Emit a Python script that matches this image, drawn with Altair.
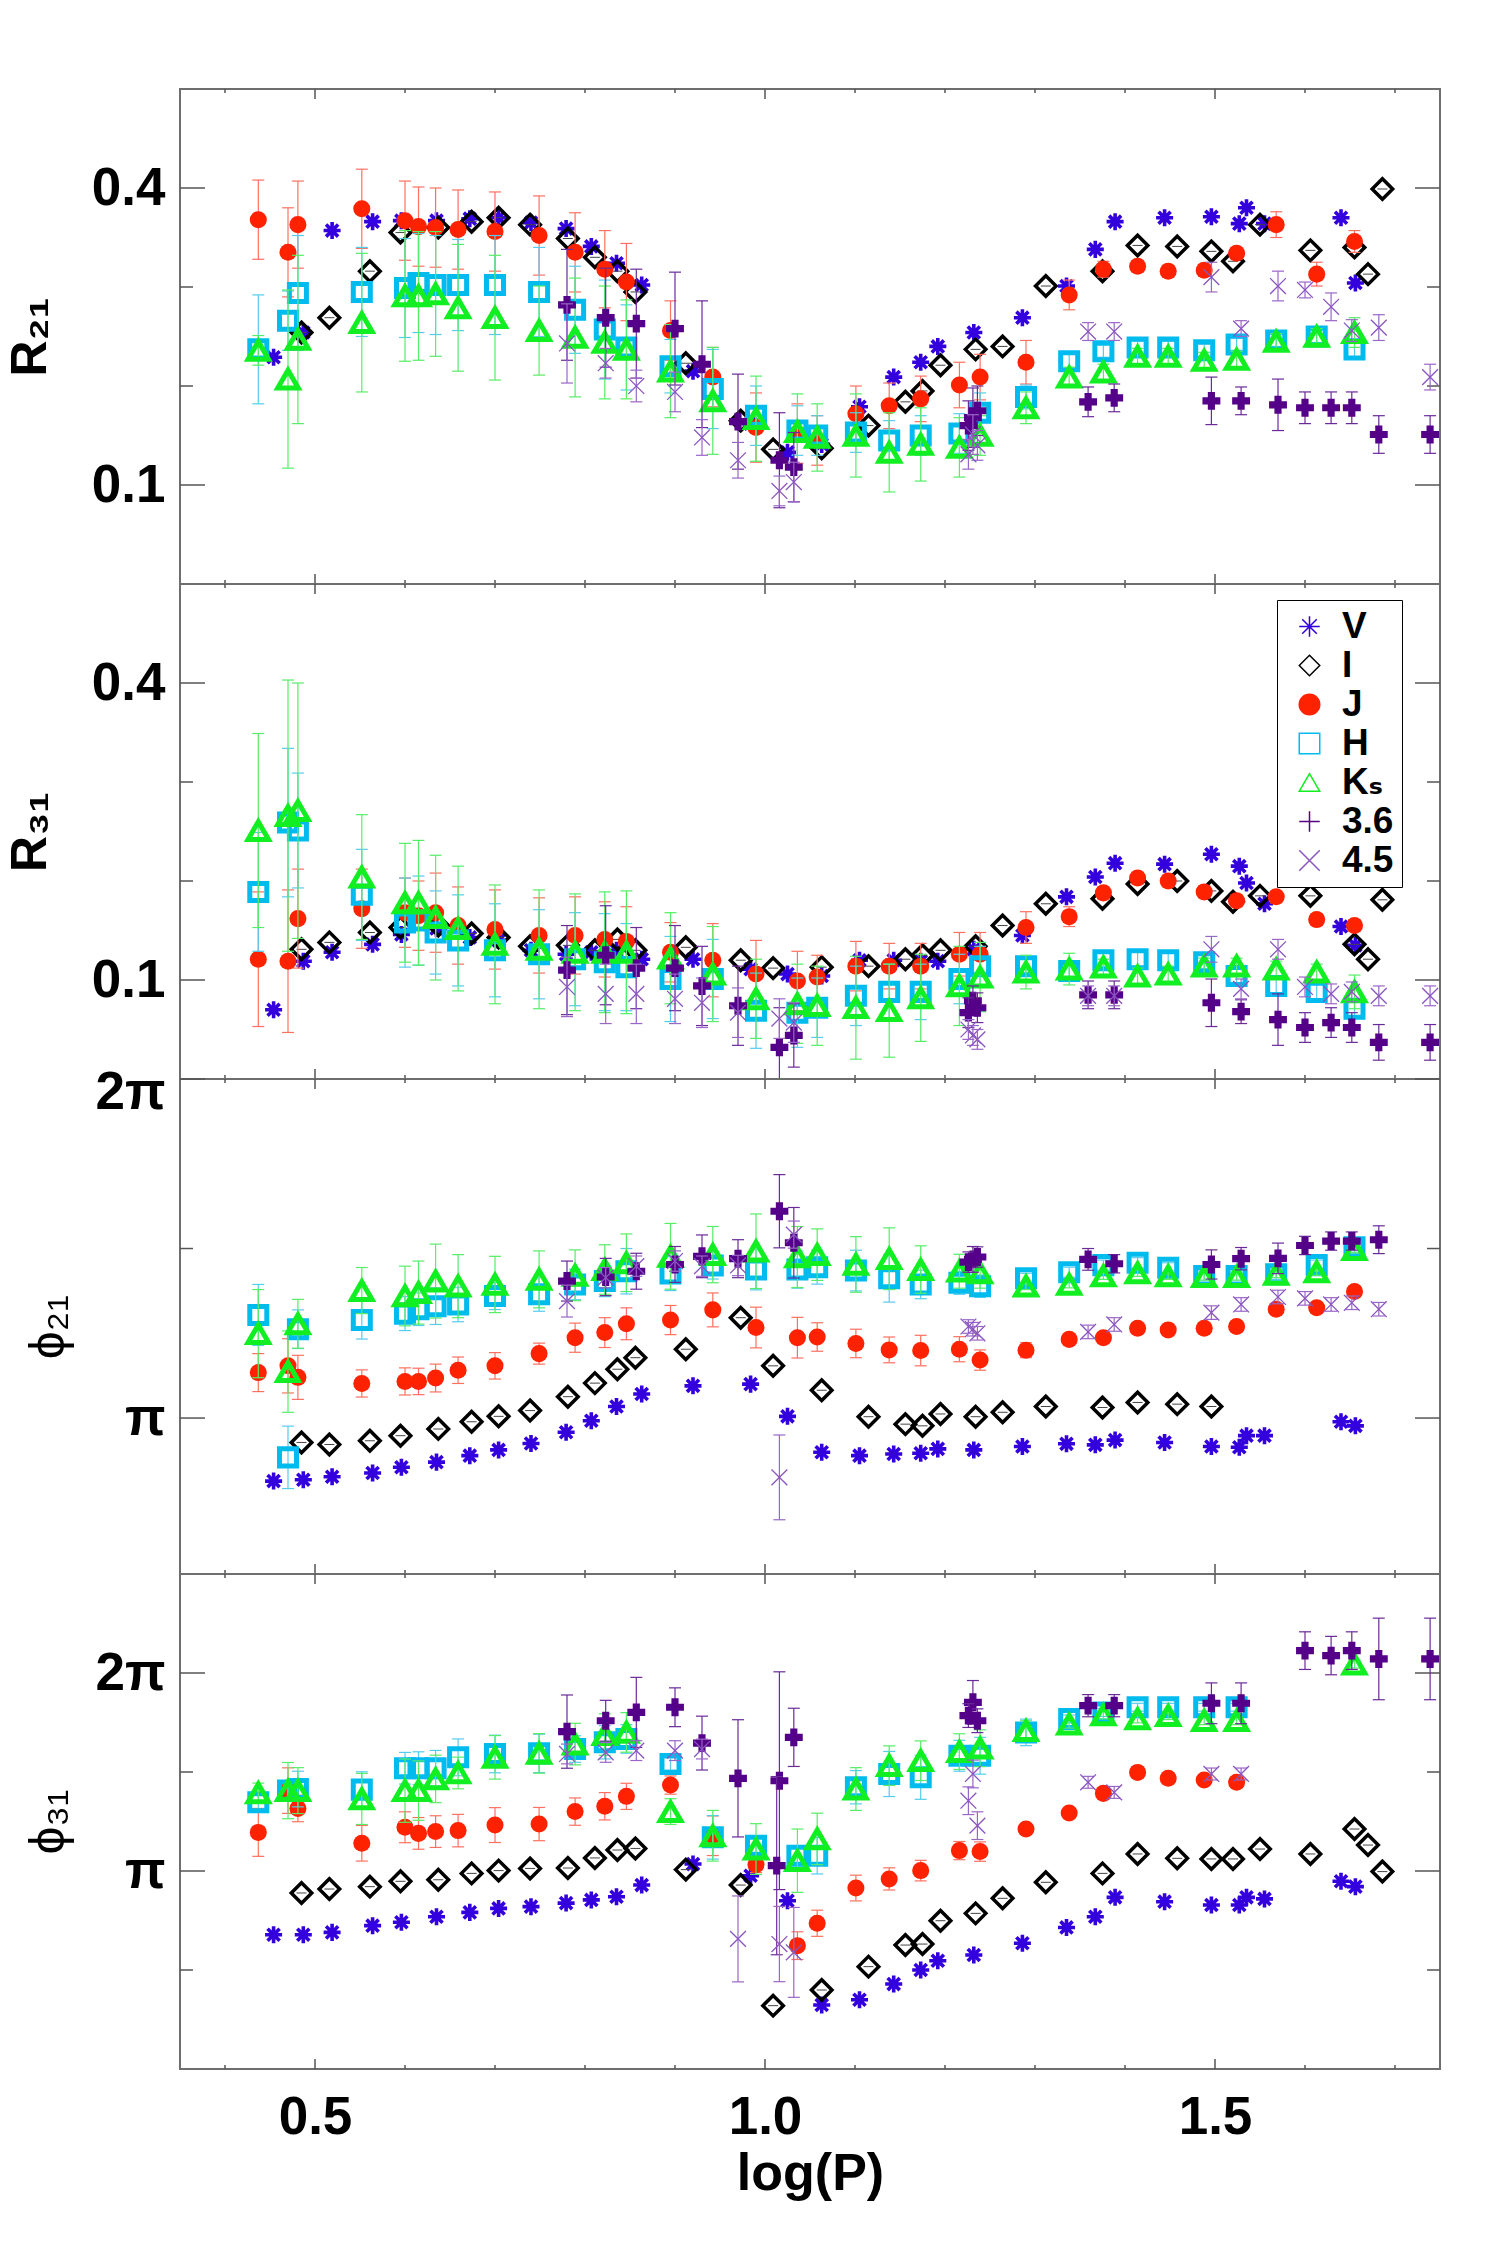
import altair as alt
import pandas as pd

# ---------------- x positions: log(P) ----------------
X_JHK = [0.437, 0.470, 0.481, 0.552, 0.600, 0.615, 0.634, 0.659, 0.700, 0.749,
         0.789, 0.822, 0.846, 0.895, 0.942, 0.990, 1.036, 1.058, 1.101, 1.138,
         1.173, 1.216, 1.239, 1.290, 1.338, 1.376, 1.414, 1.448, 1.488, 1.524,
         1.568, 1.613, 1.655]
X_V = [0.454, 0.487, 0.519, 0.564, 0.596, 0.635, 0.672, 0.704, 0.740, 0.779,
       0.807, 0.835, 0.863, 0.920, 0.984, 1.025, 1.063, 1.105, 1.143, 1.173,
       1.192, 1.232, 1.286, 1.335, 1.367, 1.389, 1.444, 1.496, 1.527, 1.535,
       1.555, 1.640, 1.656]
X_I = [0.485, 0.516, 0.561, 0.595, 0.637, 0.674, 0.704, 0.739, 0.781, 0.811,
       0.836, 0.856, 0.912, 0.973, 1.009, 1.063, 1.115, 1.156, 1.175, 1.195,
       1.234, 1.264, 1.312, 1.375, 1.414, 1.458, 1.496, 1.520, 1.550, 1.606,
       1.655, 1.670, 1.686]
X_IR = [0.780, 0.823, 0.857, 0.900, 0.930, 0.970, 1.016, 1.032, 1.231, 1.359,
        1.388, 1.496, 1.529, 1.570, 1.600, 1.629, 1.652, 1.682, 1.739]
X_IRX = [1.226, 1.236, 1.013]

# ---------------- R21 ----------------
R21_V = [0.229, 0.254, 0.357, 0.366, 0.367, 0.367, 0.369, 0.370, 0.365, 0.359,
         0.341, 0.324, 0.302, 0.215, 0.162, 0.133, 0.141, 0.179, 0.209, 0.224,
         0.240, 0.254, 0.269, 0.301, 0.338, 0.366, 0.370, 0.371, 0.364, 0.380,
         0.364, 0.370, 0.304]
R21_I = [0.254, 0.269, 0.316, 0.355, 0.360, 0.366, 0.370, 0.363, 0.349, 0.330,
         0.316, 0.295, 0.223, 0.165, 0.136, 0.137, 0.160, 0.184, 0.195, 0.221,
         0.237, 0.240, 0.301, 0.316, 0.342, 0.341, 0.336, 0.326, 0.363, 0.337,
         0.340, 0.313, 0.399]
R21_J = [0.368, 0.335, 0.363, 0.379, 0.367, 0.361, 0.360, 0.358, 0.356, 0.352,
         0.335, 0.318, 0.305, 0.256, 0.209, 0.158, 0.152, 0.145, 0.172, 0.180,
         0.187, 0.201, 0.209, 0.224, 0.292, 0.318, 0.321, 0.316, 0.317, 0.334,
         0.363, 0.313, 0.346]
R21_Je = [0.040, 0.045, 0.044, 0.040, 0.040, 0.040, 0.040, 0.040, 0.040, 0.040,
          0.040, 0.039, 0.039, 0.030, 0.030, 0.035, 0.030, 0.025, 0.028, 0.023,
          0.023, 0.023, 0.023, 0.022, 0.015, 0.008, 0.006, 0.006, 0.006, 0.006,
          0.013, 0.012, 0.011]
R21_H = [0.237, 0.266, 0.294, 0.295, 0.299, 0.304, 0.302, 0.302, 0.302, 0.295,
         0.277, 0.257, 0.239, 0.220, 0.197, 0.170, 0.155, 0.150, 0.153, 0.145,
         0.150, 0.152, 0.173, 0.189, 0.225, 0.235, 0.239, 0.239, 0.236, 0.242,
         0.246, 0.250, 0.237]
R21_He = [0.055, 0.030, 0.058, 0.045, 0.050, 0.050, 0.050, 0.046, 0.050, 0.045,
          0.044, 0.050, 0.043, 0.027, 0.040, 0.030, 0.025, 0.020, 0.020, 0.020,
          0.020, 0.020, 0.020, 0.012, 0.008, 0.006, 0.006, 0.006, 0.006, 0.006,
          0.006, 0.006, 0.008]
R21_K = [0.236, 0.207, 0.247, 0.264, 0.291, 0.291, 0.293, 0.279, 0.269, 0.256,
         0.249, 0.244, 0.237, 0.215, 0.185, 0.167, 0.154, 0.148, 0.150, 0.133,
         0.141, 0.138, 0.150, 0.178, 0.209, 0.214, 0.230, 0.230, 0.226, 0.227,
         0.245, 0.250, 0.254]
R21_Ke = [0.015, 0.090, 0.085, 0.070, 0.066, 0.065, 0.063, 0.064, 0.063, 0.045,
          0.060, 0.057, 0.050, 0.047, 0.054, 0.043, 0.038, 0.034, 0.042, 0.040,
          0.037, 0.030, 0.020, 0.016, 0.010, 0.008, 0.008, 0.008, 0.008, 0.008,
          0.008, 0.008, 0.015]
R21_36 = [0.282, 0.269, 0.263, 0.258, 0.222, 0.164, 0.125, 0.118, 0.168, 0.184,
          0.188, 0.185, 0.185, 0.181, 0.178, 0.178, 0.178, 0.151, 0.151]
R21_36e = [0.056, 0.050, 0.055, 0.057, 0.064, 0.048, 0.048, 0.035, 0.030, 0.015,
           0.014, 0.024, 0.014, 0.026, 0.016, 0.016, 0.016, 0.019, 0.019]
R21_45 = [0.243, 0.223, 0.200, 0.194, 0.148, 0.125, 0.094, 0.103, 0.151, 0.255,
          0.255, 0.310, 0.258, 0.301, 0.297, 0.280, 0.256, 0.259, 0.209]
R21_45e = [0.040, 0.015, 0.016, 0.020, 0.018, 0.018, 0.015, 0.020, 0.020, 0.009,
           0.009, 0.015, 0.008, 0.015, 0.008, 0.014, 0.011, 0.013, 0.013]
R21_36x = [0.160, 0.175, None]
R21_36xe = [0.025, 0.025, None]
R21_45x = [0.131, 0.140, None]
R21_45xe = [0.015, 0.015, None]

# ---------------- R31 ----------------
R31_V = [0.070, 0.119, 0.128, 0.136, 0.146, 0.152, 0.143, 0.140, 0.130, 0.126,
         0.128, 0.130, 0.121, 0.121, 0.111, 0.106, 0.104, 0.120, 0.120, 0.119,
         0.119, 0.131, 0.145, 0.184, 0.204, 0.218, 0.217, 0.227, 0.215, 0.198,
         0.177, 0.154, 0.135]
R31_I = [0.131, 0.138, 0.148, 0.153, 0.155, 0.147, 0.143, 0.134, 0.135, 0.130,
         0.141, 0.130, 0.133, 0.120, 0.112, 0.113, 0.114, 0.121, 0.125, 0.130,
         0.134, 0.155, 0.177, 0.182, 0.197, 0.200, 0.190, 0.179, 0.185, 0.185,
         0.136, 0.121, 0.181]
R31_J = [0.121, 0.119, 0.162, 0.172, 0.168, 0.165, 0.168, 0.155, 0.151, 0.145,
         0.145, 0.141, 0.139, 0.128, 0.120, 0.106, 0.099, 0.103, 0.114, 0.114,
         0.114, 0.126, 0.126, 0.153, 0.164, 0.188, 0.203, 0.200, 0.189, 0.180,
         0.184, 0.161, 0.155]
R31_Je = [0.068, 0.072, 0.050, 0.040, 0.035, 0.035, 0.040, 0.039, 0.040, 0.038,
          0.039, 0.038, 0.035, 0.030, 0.037, 0.034, 0.030, 0.022, 0.025, 0.023,
          0.023, 0.022, 0.022, 0.016, 0.010, 0.006, 0.006, 0.006, 0.006, 0.006,
          0.006, 0.006, 0.006]
R31_H = [0.189, 0.259, 0.251, 0.186, 0.158, 0.160, 0.148, 0.140, 0.130, 0.126,
         0.121, 0.118, 0.113, 0.101, 0.101, 0.069, 0.067, 0.072, 0.084, 0.088,
         0.088, 0.101, 0.114, 0.114, 0.109, 0.120, 0.121, 0.120, 0.118, 0.104,
         0.094, 0.088, 0.071]
R31_He = [0.060, 0.075, 0.058, 0.046, 0.045, 0.045, 0.042, 0.046, 0.047, 0.045,
          0.047, 0.049, 0.044, 0.043, 0.040, 0.038, 0.035, 0.030, 0.030, 0.028,
          0.028, 0.025, 0.020, 0.008, 0.008, 0.008, 0.008, 0.008, 0.008, 0.008,
          0.008, 0.008, 0.008]
R31_K = [0.251, 0.266, 0.271, 0.204, 0.178, 0.178, 0.163, 0.152, 0.136, 0.131,
         0.128, 0.128, 0.128, 0.122, 0.106, 0.081, 0.076, 0.074, 0.072, 0.069,
         0.082, 0.094, 0.103, 0.108, 0.111, 0.113, 0.104, 0.106, 0.114, 0.114,
         0.111, 0.108, 0.088]
R31_Ke = [0.098, 0.137, 0.129, 0.063, 0.060, 0.063, 0.063, 0.063, 0.060, 0.060,
          0.059, 0.061, 0.062, 0.046, 0.048, 0.040, 0.040, 0.040, 0.052, 0.047,
          0.044, 0.040, 0.035, 0.017, 0.016, 0.008, 0.008, 0.008, 0.008, 0.008,
          0.008, 0.008, 0.017]
R31_36 = [0.110, 0.125, 0.112, 0.112, 0.094, 0.074, 0.032, 0.044, 0.079, 0.085,
          0.085, 0.077, 0.068, 0.060, 0.052, 0.057, 0.052, 0.037, 0.037]
R31_36e = [0.045, 0.050, 0.041, 0.043, 0.040, 0.040, 0.040, 0.032, 0.015, 0.014,
           0.014, 0.024, 0.012, 0.026, 0.015, 0.015, 0.015, 0.018, 0.018]
R31_45 = [0.093, 0.086, 0.086, 0.081, 0.077, 0.067, 0.061, 0.057, 0.044, 0.084,
          0.084, 0.131, 0.091, 0.131, 0.093, 0.086, 0.088, 0.084, 0.084]
R31_45e = [0.030, 0.030, 0.030, 0.025, 0.025, 0.025, 0.020, 0.020, 0.010, 0.010,
           0.010, 0.013, 0.010, 0.010, 0.010, 0.010, 0.010, 0.010, 0.010]
R31_36x = [0.067, 0.072, None]
R31_36xe = [0.015, 0.015, None]
R31_45x = [0.050, 0.040, None]
R31_45xe = [0.010, 0.010, None]

# ---------------- phi21 (units of pi) ----------------
P21_V = [0.814, 0.818, 0.827, 0.838, 0.855, 0.870, 0.889, 0.906, 0.925, 0.958,
         0.992, 1.034, 1.071, 1.095, 1.100, 1.005, 0.899, 0.889, 0.894, 0.896,
         0.909, 0.906, 0.916, 0.924, 0.921, 0.935, 0.928, 0.916, 0.914, 0.948,
         0.948, 0.989, 0.977]
P21_I = [0.928, 0.922, 0.933, 0.948, 0.968, 0.989, 1.005, 1.022, 1.063, 1.103,
         1.144, 1.178, 1.203, 1.296, 1.154, 1.082, 1.004, 0.982, 0.977, 1.012,
         1.004, 1.017, 1.034, 1.031, 1.046, 1.041, 1.034, None, None, None,
         None, None, None]
P21_J = [1.134, 1.154, 1.120, 1.102, 1.108, 1.108, 1.118, 1.141, 1.154, 1.190,
         1.237, 1.252, 1.278, 1.289, 1.319, 1.267, 1.237, 1.239, 1.220, 1.201,
         1.199, 1.203, 1.171, 1.200, 1.232, 1.237, 1.265, 1.260, 1.265, 1.270,
         1.321, 1.325, 1.373]
P21_Je = [0.056, 0.080, 0.065, 0.040, 0.040, 0.039, 0.041, 0.039, 0.039, 0.031,
          0.043, 0.044, 0.047, 0.043, 0.050, 0.060, 0.060, 0.042, 0.042, 0.038,
          0.045, 0.037, 0.030, 0.022, 0.010, 0.010, 0.010, 0.010, 0.010, 0.010,
          0.010, 0.010, 0.010]
P21_H = [1.304, 0.884, 1.262, 1.289, 1.308, 1.321, 1.330, 1.335, 1.360, 1.365,
         1.394, 1.404, 1.433, 1.426, 1.450, 1.438, 1.438, 1.445, 1.435, 1.412,
         1.394, 1.399, 1.389, 1.412, 1.430, 1.451, 1.458, 1.443, 1.419, 1.419,
         1.424, 1.451, 1.504]
P21_He = [0.090, 0.092, 0.057, 0.056, 0.050, 0.048, 0.054, 0.051, 0.040, 0.050,
          0.045, 0.046, 0.067, 0.050, 0.040, 0.060, 0.055, 0.050, 0.060, 0.070,
          0.042, 0.034, 0.033, 0.015, 0.015, 0.015, 0.015, 0.015, 0.015, 0.015,
          0.015, 0.015, 0.015]
P21_K = [1.249, 1.137, 1.278, 1.376, 1.360, 1.370, 1.404, 1.389, 1.394, 1.409,
         1.421, 1.438, 1.458, 1.477, 1.482, 1.492, 1.475, 1.482, 1.453, 1.470,
         1.438, 1.433, 1.428, 1.389, 1.394, 1.419, 1.428, 1.419, 1.417, 1.417,
         1.424, 1.431, 1.497]
P21_Ke = [0.130, 0.120, 0.072, 0.068, 0.088, 0.093, 0.109, 0.093, 0.083, 0.084,
          0.075, 0.073, 0.085, 0.097, 0.083, 0.110, 0.090, 0.076, 0.082, 0.091,
          0.070, 0.050, 0.045, 0.010, 0.010, 0.010, 0.010, 0.010, 0.010, 0.010,
          0.010, 0.010, 0.010]
P21_36 = [1.404, 1.416, 1.433, 1.453, 1.477, 1.470, 1.610, 1.517, 1.468, 1.468,
          1.455, 1.453, 1.470, 1.471, 1.509, 1.522, 1.522, 1.526, None]
P21_36e = [0.059, 0.055, 0.053, 0.053, 0.063, 0.056, 0.108, 0.104, 0.038, 0.032,
           0.027, 0.043, 0.033, 0.045, 0.027, 0.027, 0.027, 0.041, None]
P21_45 = [1.345, 1.414, 1.448, 1.463, 1.448, 1.450, 0.825, 1.541, 1.262, 1.254,
          1.276, 1.311, 1.335, 1.357, 1.353, 1.335, 1.340, 1.321, None]
P21_45e = [0.047, 0.030, 0.030, 0.030, 0.030, 0.030, 0.125, 0.040, 0.020, 0.020,
           0.020, 0.020, 0.020, 0.020, 0.020, 0.020, 0.020, 0.020, None]
P21_36x = [1.460, 1.475, None]
P21_36xe = [0.030, 0.030, None]
P21_45x = [1.270, 1.250, None]
P21_45xe = [0.020, 0.020, None]

# ---------------- phi31 (units of pi) ----------------
P31_V = [0.678, 0.678, 0.690, 0.724, 0.741, 0.769, 0.791, 0.811, 0.820, 0.838,
         0.854, 0.870, 0.929, 1.035, 0.976, 0.850, 0.323, 0.350, 0.429, 0.500,
         0.547, 0.576, 0.635, 0.715, 0.769, 0.867, 0.845, 0.828, 0.828, 0.867,
         0.859, 0.948, 0.921]
P31_I = [0.889, 0.909, 0.921, 0.948, 0.956, 0.988, 1.002, 1.013, 1.015, 1.066,
         1.106, 1.114, 1.007, 0.929, 0.320, 0.399, 0.517, 0.626, 0.631, 0.749,
         0.786, 0.862, 0.943, 0.988, 1.086, 1.064, 1.061, 1.061, 1.111, 1.086,
         1.212, 1.131, 0.997]
P31_J = [1.195, 1.406, 1.316, 1.140, 1.221, 1.190, 1.199, 1.204, 1.232, 1.237,
         1.300, 1.327, 1.377, 1.434, 1.178, 1.032, 0.623, 0.736, 0.914, 0.960,
         1.002, 1.103, 1.098, 1.212, 1.293, 1.392, 1.498, 1.468, 1.460, 1.448,
         None, None, None]
P31_Je = [0.121, 0.115, 0.067, 0.090, 0.078, 0.080, 0.080, 0.082, 0.088, 0.084,
          0.069, 0.069, 0.066, 0.046, 0.100, 0.040, 0.070, 0.066, 0.065, 0.056,
          0.052, 0.046, 0.049, 0.010, 0.010, 0.010, 0.010, 0.010, 0.010, 0.010,
          None, None, None]
P31_H = [1.347, 1.406, 1.414, 1.411, 1.519, 1.519, 1.519, 1.574, 1.591, 1.594,
         1.616, 1.650, 1.667, 1.540, 1.170, 1.128, 1.077, 1.077, 1.423, 1.490,
         1.473, 1.582, 1.582, 1.700, 1.768, 1.801, 1.827, 1.827, 1.827, 1.827,
         None, None, None]
P31_He = [0.050, 0.050, 0.090, 0.090, 0.080, 0.083, 0.090, 0.093, 0.095, 0.097,
          0.067, 0.084, 0.072, 0.030, 0.110, 0.050, 0.050, 0.092, 0.084, 0.114,
          0.111, 0.078, 0.093, 0.067, 0.020, 0.020, 0.020, 0.020, 0.020, 0.020,
          None, None, None]
P31_K = [1.394, 1.406, 1.406, 1.364, 1.406, 1.406, 1.465, 1.495, 1.574, 1.594,
         1.641, 1.689, 1.700, 1.300, 1.178, 1.111, 1.052, 1.162, 1.414, 1.532,
         1.557, 1.603, 1.620, 1.709, 1.742, 1.788, 1.768, 1.785, 1.759, 1.759,
         None, None, 2.045]
P31_Ke = [0.050, 0.142, 0.116, 0.129, 0.160, 0.150, 0.120, 0.080, 0.110, 0.100,
          0.105, 0.105, 0.100, 0.065, 0.128, 0.128, 0.160, 0.130, 0.108, 0.100,
          0.100, 0.090, 0.093, 0.050, 0.020, 0.020, 0.020, 0.020, 0.020, 0.020,
          None, None, 0.020]
P31_36 = [1.704, 1.759, 1.801, 1.827, 1.646, 1.468, 1.456, 1.675, 1.852, 1.835,
          1.835, 1.847, 1.847, None, 2.113, 2.088, 2.113, 2.071, 2.071]
P31_36e = [0.185, 0.103, 0.177, 0.098, 0.136, 0.296, 0.550, 0.147, 0.110, 0.056,
           0.056, 0.103, 0.103, None, 0.095, 0.097, 0.095, 0.206, 0.206]
P31_45 = [1.591, 1.599, 1.608, 1.608, 1.616, 0.657, 0.631, 0.589, 1.490, 1.448,
          1.397, 1.490, 1.490, None, None, None, None, None, None]
P31_45e = [0.050, 0.050, 0.050, 0.050, 0.050, 0.217, 0.190, 0.227, 0.070, 0.030,
           0.030, 0.030, 0.030, None, None, None, None, None, None]
P31_36x = [1.785, 1.759, 1.027]
P31_36xe = [0.060, 0.060, 0.450]
P31_45x = [1.355, 1.229, None]
P31_45xe = [0.070, 0.070, None]

# ---------------- axis tick values ----------------
X_MAJOR = [0.5, 1.0, 1.5]
X_MINOR = [0.4, 0.6, 0.7, 0.8, 0.9, 1.1, 1.2, 1.3, 1.4, 1.6, 1.7]
R_MAJOR = [0.1, 0.4]
R_MINOR = [0.2, 0.3]
P_MAJOR = [1.0, 2.0]
P_MINOR = [0.5, 1.5]

SERIES = ["V", "I", "J", "H", "Kₛ", "3.6", "4.5"]
COLORS = ["#3300dd", "#000000", "#ff2200", "#00bbee", "#11ee22", "#550088", "#8a55c0"]

ASTER = "M-1,0L1,0M0,-1L0,1M-0.71,-0.71L0.71,0.71M-0.71,0.71L0.71,-0.71"
XPATH = "M-1,-1L1,1M-1,1L1,-1"
PLUS = "M-1,0L1,0M0,-1L0,1"

STYLE = {
    "V": dict(shape=ASTER, size=290, color=COLORS[0], filled=False, sw=3.6, ecolor=None),
    "I": dict(shape="diamond", size=420, color=COLORS[1], filled=False, sw=3.5, ecolor=None),
    "J": dict(shape="circle", size=290, color=COLORS[2], filled=True, sw=0, ecolor="#ff7060"),
    "H": dict(shape="square", size=290, color=COLORS[3], filled=False, sw=5, ecolor="#55ccee"),
    "Kₛ": dict(shape="triangle-up", size=420, color=COLORS[4], filled=False, sw=5, ecolor="#55ee66"),
    "3.6": dict(shape="cross", size=320, color=COLORS[5], filled=True, sw=0, ecolor="#6a2a99"),
    "4.5": dict(shape=XPATH, size=250, color=COLORS[6], filled=False, sw=1.3, ecolor="#9a66c8"),
}

W, H = 1260, 495
XS = alt.Scale(domain=[0.35, 1.75], nice=False, zero=False)
TICK_C = "#555555"
LAB_FONT = "Liberation Sans"
TITLE_FONT = "Liberation Sans, DejaVu Sans"


def pts(xs, ys, es=None):
    rows = []
    for i, (x, y) in enumerate(zip(xs, ys)):
        if y is None:
            continue
        e = es[i] if es is not None else None
        e = 0.0 if e is None else e
        rows.append({"x": x, "y": y, "lo": y - e, "hi": y + e, "e": e})
    return pd.DataFrame(rows)


def series_layers(key, xs, ys, es, yscale, xaxis, yaxis):
    st = STYLE[key]
    df = pts(xs, ys, es)
    out = []
    if st["ecolor"] and es is not None:
        de = df[df.e > 0]
        if len(de):
            out.append(alt.Chart(de).mark_rule(color=st["ecolor"], strokeWidth=1.2, clip=True).encode(
                x=alt.X("x:Q", scale=XS, axis=xaxis),
                y=alt.Y("lo:Q", scale=yscale, axis=yaxis), y2=alt.Y2("hi:Q")))
            caps = pd.DataFrame({"x": list(de.x) * 2, "c": list(de.lo) + list(de.hi)})
            out.append(alt.Chart(caps).mark_tick(orient="horizontal", size=12, thickness=1.2,
                                                  color=st["ecolor"], clip=True, opacity=1).encode(
                x=alt.X("x:Q", scale=XS, axis=xaxis),
                y=alt.Y("c:Q", scale=yscale, axis=yaxis)))
    kw = dict(shape=st["shape"], size=st["size"], color=st["color"], filled=st["filled"],
              opacity=1, clip=True)
    if st["sw"]:
        kw["strokeWidth"] = st["sw"]
    out.append(alt.Chart(df).mark_point(**kw).encode(
        x=alt.X("x:Q", scale=XS, axis=xaxis),
        y=alt.Y("y:Q", scale=yscale, axis=yaxis)))
    if key == "I":
        out.append(alt.Chart(df).mark_tick(orient="horizontal", size=10, thickness=1,
                                            color="#444444", clip=True, opacity=1).encode(
            x=alt.X("x:Q", scale=XS, axis=xaxis),
            y=alt.Y("y:Q", scale=yscale, axis=yaxis)))
    return out


def panel(data, ydom, ymaj, ymin, ylabels, lab_expr, title, title_x, title_bold,
          bottom=False, legend_at=None, flush=False):
    ys = alt.Scale(domain=ydom, nice=False, zero=False)
    yaxis = alt.Axis(values=ylabels, labelExpr=lab_expr, ticks=False, domain=False, grid=False,
                     labelFont=LAB_FONT, labelFontSize=53, labelFontWeight="bold",
                     labelColor="black", labelPadding=15, labelFlush=flush,
                     labelFlushOffset=13 if flush else 0,
                     title=title, titleFont=TITLE_FONT, titleFontSize=50,
                     titleFontWeight="bold" if title_bold else "normal", titleColor="black",
                     titleAngle=270, titleAlign="center", titleBaseline="middle",
                     titleX=title_x, titleY=H / 2)
    if bottom:
        xaxis = alt.Axis(values=X_MAJOR, format=".1f", ticks=False, domain=False, grid=False,
                         labelFont=LAB_FONT, labelFontSize=53, labelFontWeight="bold",
                         labelColor="black", labelPadding=22, labelFlush=False,
                         title="log(P)", titleFont=LAB_FONT, titleFontSize=52,
                         titleFontWeight="bold", titleColor="black", titlePadding=4)
    else:
        xaxis = None
    layers = []

    if legend_at is not None:
        # legend source: tiny points hidden underneath an existing J marker (drawn first)
        leg = alt.Legend(orient="none", legendX=1097, legendY=16, title=None,
                         strokeColor="black", fillColor="white", padding=8,
                         symbolSize=420, symbolStrokeWidth=1.5, symbolOffset=6,
                         labelFont=TITLE_FONT, labelFontWeight="bold",
                         labelFontSize=37, labelColor="black", labelOffset=14,
                         rowPadding=1, labelLimit=300)
        lx, ly = legend_at
        leg_df = pd.DataFrame({"series": SERIES, "x": [lx] * 7, "y": [ly] * 7})
        layers.append(alt.Chart(leg_df).mark_point(opacity=1, size=2, strokeWidth=0.5,
                                                   filled=False).encode(
            x=alt.X("x:Q", scale=XS, axis=xaxis),
            y=alt.Y("y:Q", scale=ys, axis=yaxis),
            shape=alt.Shape("series:N", scale=alt.Scale(
                domain=SERIES, range=[ASTER, "diamond", "circle", "square", "triangle-up", PLUS, XPATH]),
                legend=leg),
            stroke=alt.Stroke("series:N", scale=alt.Scale(domain=SERIES, range=COLORS), legend=leg),
            fill=alt.Fill("series:N", scale=alt.Scale(
                domain=SERIES, range=["transparent", "transparent", COLORS[2], "transparent",
                                      "transparent", "transparent", "transparent"]), legend=leg),
        ))

    for vals, x0, x1 in [(ymaj, 0, 25), (ymaj, W - 25, W), (ymin, 0, 13), (ymin, W - 13, W)]:
        layers.append(alt.Chart(pd.DataFrame({"v": vals})).mark_rule(color=TICK_C, strokeWidth=1.5).encode(
            y=alt.Y("v:Q", scale=ys, axis=yaxis), x=alt.value(x0), x2=alt.value(x1)))
    for vals, y0, y1 in [(X_MAJOR, H - 10, H), (X_MAJOR, 0, 10), (X_MINOR, H - 4, H), (X_MINOR, 0, 4)]:
        layers.append(alt.Chart(pd.DataFrame({"v": vals})).mark_rule(color=TICK_C, strokeWidth=1.5).encode(
            x=alt.X("v:Q", scale=XS, axis=xaxis), y=alt.value(y0), y2=alt.value(y1)))

    for key, xs, ys_, es in data:
        layers += series_layers(key, xs, ys_, es, ys, xaxis, yaxis)

    return alt.layer(*layers).properties(width=W, height=H)


def panel_data(V, I, J, Je, Hh, He, K, Ke, A, Ae, B, Be, Ax, Axe, Bx, Bxe):
    return [
        ("V", X_V, V, None),
        ("I", X_I, I, None),
        ("J", X_JHK, J, Je),
        ("H", X_JHK, Hh, He),
        ("Kₛ", X_JHK, K, Ke),
        ("3.6", X_IR, A, Ae),
        ("3.6", X_IRX, Ax, Axe),
        ("4.5", X_IR, B, Be),
        ("4.5", X_IRX, Bx, Bxe),
    ]


PI_EXPR = "datum.value == 1 ? 'π' : '2π'"

p1 = panel(panel_data(R21_V, R21_I, R21_J, R21_Je, R21_H, R21_He, R21_K, R21_Ke,
                      R21_36, R21_36e, R21_45, R21_45e, R21_36x, R21_36xe, R21_45x, R21_45xe),
           [0.0, 0.5], R_MAJOR, R_MINOR, R_MAJOR, "format(datum.value, '.1f')",
           "R₂₁", -150, True)
p2 = panel(panel_data(R31_V, R31_I, R31_J, R31_Je, R31_H, R31_He, R31_K, R31_Ke,
                      R31_36, R31_36e, R31_45, R31_45e, R31_36x, R31_36xe, R31_45x, R31_45xe),
           [0.0, 0.5], R_MAJOR, R_MINOR, R_MAJOR, "format(datum.value, '.1f')",
           "R₃₁", -150, True, legend_at=(X_JHK[10], R31_J[10]))
p3 = panel(panel_data(P21_V, P21_I, P21_J, P21_Je, P21_H, P21_He, P21_K, P21_Ke,
                      P21_36, P21_36e, P21_45, P21_45e, P21_36x, P21_36xe, P21_45x, P21_45xe),
           [0.54, 2.0], P_MAJOR, [1.5], P_MAJOR, PI_EXPR,
           "ϕ₂₁", -132, False, flush=True)
p4 = panel(panel_data(P31_V, P31_I, P31_J, P31_Je, P31_H, P31_He, P31_K, P31_Ke,
                      P31_36, P31_36e, P31_45, P31_45e, P31_36x, P31_36xe, P31_45x, P31_45xe),
           [0.0, 2.5], P_MAJOR, P_MINOR, P_MAJOR, PI_EXPR,
           "ϕ₃₁", -132, False, bottom=True)

chart = alt.vconcat(p1, p2, p3, p4, spacing=0, bounds="flush").resolve_scale(
    x="independent", y="independent", shape="independent", stroke="independent", fill="independent"
).resolve_legend(shape="independent", stroke="independent", fill="independent").properties(
    padding={"left": 4, "top": 87, "right": 5, "bottom": 5},
    background="white",
).configure_view(stroke="#6e6e6e", strokeWidth=2)

chart.save("out.html", embed_options={"renderer": "svg", "actions": False})
